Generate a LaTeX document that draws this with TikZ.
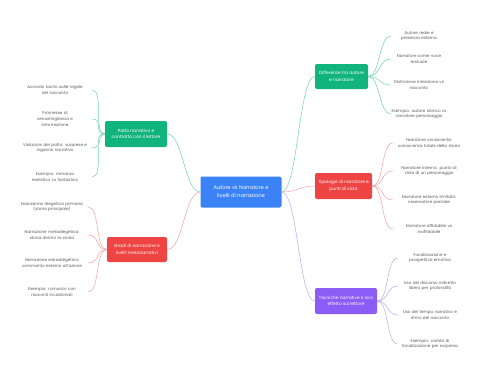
\documentclass[tikz,border=0pt]{standalone}
\usepackage{fontspec}
\setmainfont{Poppins}
\usetikzlibrary{positioning}

\definecolor{mapblue}{HTML}{3B82F6}
\definecolor{mapgreen}{HTML}{12B47E}
\definecolor{mapred}{HTML}{EF4444}
\definecolor{mappurple}{HTML}{8B5CF6}

\tikzset{
  topic/.style={rounded corners=2bp, text=white, align=center, inner sep=0pt,
    font=\fontsize{4.4}{6.4}\selectfont},
  leaf/.style={align=center, inner sep=0pt, text=black!65,
    font=\fontsize{4.1}{5.6}\selectfont},
  link/.style={line width=0.5bp}
}

\begin{document}
\begin{tikzpicture}[x=1bp,y=-1bp]
    \useasboundingbox[fill=white] (0,0) rectangle (480,384);

    % central topic
    \node[topic, fill=mapblue, minimum width=81bp, minimum height=31bp,
      font=\fontsize{5.2}{7.8}\selectfont] (root) at (241,192)
      {Autore vs Narratore e\\livelli di narrazione};

    % branches
    \node[topic, fill=mapgreen, minimum width=53bp, minimum height=25bp] (diff) at (341.5,76.5)
      {Differenze tra autore\\e narratore};
    \node[topic, fill=mapred, minimum width=57bp, minimum height=26bp] (tipi) at (343.5,186)
      {Tipologie di narratore e\\punti di vista};
    \node[topic, fill=mappurple, minimum width=62bp, minimum height=26bp] (tecn) at (346,301)
      {Tecniche narrative e loro\\effetto sul lettore};
    \node[topic, fill=mapgreen, minimum width=62bp, minimum height=26bp] (patto) at (136,134)
      {Patto narrativo e\\contratto con il lettore};
    \node[topic, fill=mapred, minimum width=60bp, minimum height=25bp] (gradi) at (137,249.5)
      {Gradi di narrazione e\\livelli metanarrativi};

    \draw[link, mapgreen!60] (root.east) .. controls +(16,0) and +(-16,0) .. (diff.west);
    \draw[link, mapred!50] (root.east) .. controls +(16,0) and +(-16,0) .. (tipi.west);
    \draw[link, mappurple!55] (root.east) .. controls +(16,0) and +(-16,0) .. (tecn.west);
    \draw[link, mapgreen!60] (root.west) .. controls +(-16,0) and +(16,0) .. (patto.east);
    \draw[link, mapred!50] (root.west) .. controls +(-16,0) and +(16,0) .. (gradi.east);

    % differenze tra autore e narratore
    \node[leaf, text width=56bp] (d1) at (419,36) {Autore reale e\\presenza esterna};
    \node[leaf, text width=56bp] (d2) at (419,59) {Narratore come voce\\testuale};
    \node[leaf, text width=56bp] (d3) at (419,85) {Distinzione intenzione vs\\racconto};
    \node[leaf, text width=56bp] (d4) at (419,114) {Esempio: autore storico vs\\narratore personaggio};
    \draw[link, mapgreen!60] (diff.east) .. controls +(12,0) and +(-12,0) .. (d1.west);
    \draw[link, mapgreen!60] (diff.east) .. controls +(12,0) and +(-12,0) .. (d2.west);
    \draw[link, mapgreen!60] (diff.east) .. controls +(12,0) and +(-12,0) .. (d3.west);
    \draw[link, mapgreen!60] (diff.east) .. controls +(12,0) and +(-12,0) .. (d4.west);

    % tipologie di narratore
    \node[leaf, text width=72bp] (t1) at (429,143) {Narratore onnisciente:\\conoscenza totale della storia};
    \node[leaf, text width=72bp] (t2) at (429,171) {Narratore interno: punto di\\vista di un personaggio};
    \node[leaf, text width=72bp] (t3) at (429,200) {Narratore esterno limitato:\\osservatore parziale};
    \node[leaf, text width=72bp] (t4) at (429,229) {Narratore affidabile vs\\inaffidabile};
    \draw[link, mapred!50] (tipi.east) .. controls +(12,0) and +(-12,0) .. (t1.west);
    \draw[link, mapred!50] (tipi.east) .. controls +(12,0) and +(-12,0) .. (t2.west);
    \draw[link, mapred!50] (tipi.east) .. controls +(12,0) and +(-12,0) .. (t3.west);
    \draw[link, mapred!50] (tipi.east) .. controls +(12,0) and +(-12,0) .. (t4.west);

    % tecniche narrative
    \node[leaf, text width=64bp] (n1) at (430,258) {Focalizzazione e\\prospettiva emotiva};
    \node[leaf, text width=64bp] (n2) at (430,286) {Uso del discorso indiretto\\libero per profondità};
    \node[leaf, text width=64bp] (n3) at (430,315) {Uso del tempo narrativo e\\ritmo del racconto};
    \node[leaf, text width=64bp] (n4) at (430,344) {Esempio: cambi di\\focalizzazione per sorpresa};
    \draw[link, mappurple!55] (tecn.east) .. controls +(12,0) and +(-12,0) .. (n1.west);
    \draw[link, mappurple!55] (tecn.east) .. controls +(12,0) and +(-12,0) .. (n2.west);
    \draw[link, mappurple!55] (tecn.east) .. controls +(12,0) and +(-12,0) .. (n3.west);
    \draw[link, mappurple!55] (tecn.east) .. controls +(12,0) and +(-12,0) .. (n4.west);

    % patto narrativo
    \node[leaf, text width=74bp] (p1) at (55,90) {Accordo tacito sulle regole\\del racconto};
    \node[leaf, text width=74bp] (p2) at (55,119) {Promesse di\\verosimiglianza e\\informazione};
    \node[leaf, text width=74bp] (p3) at (55,148) {Violazioni del patto: sorprese e\\inganno narrativo};
    \node[leaf, text width=74bp] (p4) at (55,177) {Esempio: romanzo\\realistico vs fantastico};
    \draw[link, mapgreen!60] (patto.west) .. controls +(-12,0) and +(12,0) .. (p1.east);
    \draw[link, mapgreen!60] (patto.west) .. controls +(-12,0) and +(12,0) .. (p2.east);
    \draw[link, mapgreen!60] (patto.west) .. controls +(-12,0) and +(12,0) .. (p3.east);
    \draw[link, mapgreen!60] (patto.west) .. controls +(-12,0) and +(12,0) .. (p4.east);

    % gradi di narrazione
    \node[leaf, text width=72bp] (g1) at (52,207) {Narrazione diegetica primaria\\(storia principale)};
    \node[leaf, text width=72bp] (g2) at (52,235) {Narrazione metadiegetica:\\storia dentro la storia};
    \node[leaf, text width=72bp] (g3) at (52,263) {Narrazione extradiegetica:\\commento esterno all'azione};
    \node[leaf, text width=72bp] (g4) at (52,292) {Esempio: romanzo con\\racconti incastonati};
    \draw[link, mapred!50] (gradi.west) .. controls +(-12,0) and +(12,0) .. (g1.east);
    \draw[link, mapred!50] (gradi.west) .. controls +(-12,0) and +(12,0) .. (g2.east);
    \draw[link, mapred!50] (gradi.west) .. controls +(-12,0) and +(12,0) .. (g3.east);
    \draw[link, mapred!50] (gradi.west) .. controls +(-12,0) and +(12,0) .. (g4.east);
\end{tikzpicture}
\end{document}
